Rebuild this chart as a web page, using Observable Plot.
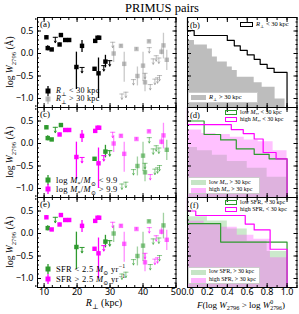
<!DOCTYPE html>
<html><head><meta charset="utf-8">
<script src="https://cdn.jsdelivr.net/npm/d3@7"></script>
<script src="https://cdn.jsdelivr.net/npm/@observablehq/plot@0.6"></script>
<style>
body{margin:0;background:#fff;}
#fig{position:relative;width:299px;height:314px;font-family:"Liberation Serif","DejaVu Serif",serif;color:#000;overflow:hidden;}
.p{position:absolute;}
.t{position:absolute;white-space:nowrap;line-height:1;}
.t i{font-style:italic;}
sub,sup{font-size:70%;line-height:0;}
.stk{display:inline-block;vertical-align:-0.45em;font-size:65%;line-height:1.05;text-align:left;}
.stk span{display:block;}
</style></head><body><div id="fig"></div>
<script>
// ---- point data (R_perp kpc, log W2796, error low/high, upper limit, high mass, high SFR)
const R   = [10.7,11.1,12.3,13.4,14.7,15.1,16.4,17.6,19.8,21.5,21.5,25.5,26.2,26.7,25.3,26.5,28.1,28.6,29.9,
             30.8,31.1,33.3,34.3,33.6,34.8,37.1,38.0,38.3,40.0,40.6,40.6,41.8,41.9,42.2,43.1,44.0,44.8,43.6,44.4,45.0,45.6,46.2,47.2];
const W   = [0.36,0.12,0.09,0.33,0.20,0.41,0.30,0.30,-0.30,-0.34,0.17,0.28,0.35,0.35,-0.34,-0.44,-0.30,-0.18,-0.19,
             0.22,0.00,0.17,-0.23,-0.93,-0.89,-0.61,0.10,-0.50,-0.27,-0.64,-0.47,0.27,0.10,-0.72,-0.15,-0.08,-0.13,-0.60,-0.57,-0.52,0.04,0.18,-0.14];
const Wlo = [0.32,0.06,0.07,null,0.17,0.38,0.28,0.28,-0.80,null,0.02,0.25,0.32,0.32,-0.37,-1.00,null,-0.32,null,
             null,-0.20,0.14,-0.64,null,null,null,0.07,-0.72,-0.62,-0.85,null,0.24,null,null,null,null,null,null,null,null,-0.03,-0.12,-0.38];
const Whi = [0.40,0.17,0.11,null,0.23,0.44,0.32,0.32,0.03,null,0.29,0.31,0.38,0.38,-0.31,-0.10,null,-0.04,null,
             null,0.17,0.20,0.03,null,null,null,0.13,-0.30,0.03,-0.45,null,0.30,null,null,null,null,null,null,null,null,0.12,0.45,0.07];
const LIM = [0,0,0,1,0,0,0,0,0,1,0,0,0,0,0,0,1,0,1, 1,0,0,0,1,1,1,0,0,0,0,1,0,1,1,1,1,1,1,1,1,0,0,0];
const HIM = [0,0,0,0,1,0,1,1,1,1,1,1,1,1,0,1,1,0,0, 1,1,1,1,0,0,0,1,0,0,0,0,1,0,1,0,0,0,0,0,0,1,1,0];
const HIS = [1,0,1,0,1,1,1,1,0,0,1,1,1,1,1,1,1,0,0, 1,0,1,1,0,0,0,1,0,0,1,1,0,1,0,0,1,0,1,1,0,1,0,1];

// ---- cumulative fractions F(log W > log W0): step levels (log W0) and the fraction reached there
const in_v   = [0.51,0.40,0.29,0.17,0.07,-0.03,-0.13,-0.24,-0.33,-0.42];
const in_F   = [0.067,0.40,0.47,0.53,0.60,0.67,0.73,0.80,0.87,1.00];
const out_v  = [0.29,0.19,0.10,-0.08,-0.19,-0.30,-0.38,-0.53,-0.65,-0.75,-1.01];
const out_F  = [0.07,0.20,0.25,0.30,0.40,0.45,0.50,0.67,0.75,0.88,0.98];
const lowM_in_v  = [0.50,0.20,0.08,-0.12,-0.24,-0.34];
const lowM_in_F  = [0.167,0.333,0.49,0.67,0.82,1.00];
const highM_in_v = [0.42,0.31,0.22,0.10,-0.20,-0.34];
const highM_in_F = [0.44,0.56,0.67,0.76,0.89,1.00];
const lowM_out_v = [-0.09,-0.16,-0.26,-0.40,-0.55,-0.75];
const lowM_out_F = [0.10,0.25,0.40,0.60,0.80,1.00];
const highM_out_v= [0.30,0.22,0.20,0.14,0.08,0.04,-0.16];
const highM_out_F= [0.143,0.286,0.43,0.57,0.71,0.86,1.00];
const lowS_in_v  = [0.22,-0.19];
const lowS_in_F  = [0.333,1.00];
const highS_in_v = [0.50,0.40,0.21,0.08,-0.35];
const highS_in_F = [0.083,0.58,0.67,0.83,1.00];
const lowS_out_v = [0.37,0.28,0.10,-0.17,-0.40];
const lowS_out_F = [0.20,0.40,0.60,0.80,1.00];
const highS_out_v= [0.27,0.20,0.14,-0.04,-0.13,-0.54];
const highS_out_F= [0.167,0.333,0.50,0.667,0.833,1.00];

const xTicksL = [10,20,30,40,50];
const xTicksR = [0.0,0.2,0.4,0.6,0.8,1.0];
const yTicks  = [0.5,0.0,-0.5,-1.0];

const pts = R.map((r,i)=>({R:r,W:W[i],lo:Wlo[i],hi:Whi[i],lim:LIM[i],m:HIM[i],s:HIS[i],far:r>30}));
const Xdom=[8,50], Ydom=[-1.2,0.8], XdomR=[0,1.1];
const GREEN="#2e9a2e", MAG="#ff00ff";
const fig=document.getElementById("fig");

const fmt = d => (d<0?"\u2212":"")+Math.abs(d).toFixed(1);
function axes(xt, minorX, showXLabels, xfmt){
  const minorY = d3.range(-1.2,0.81,0.1).map(v=>+v.toFixed(2));
  const o = {label:null};
  return [
    Plot.frame({stroke:"#000",strokeWidth:1}),
    Plot.axisX(xt,{...o,anchor:"bottom",tickSize:-4,tickPadding:5,fontSize:9,tickFormat: showXLabels? xfmt : ()=>""}),
    Plot.axisX(xt,{...o,anchor:"top",tickSize:-4,tickFormat:()=>""}),
    Plot.axisX(minorX,{...o,anchor:"bottom",tickSize:-2,tickFormat:()=>""}),
    Plot.axisX(minorX,{...o,anchor:"top",tickSize:-2,tickFormat:()=>""}),
    Plot.axisY(yTicks,{...o,anchor:"left",tickSize:-4,tickFormat:()=>""}),
    Plot.axisY(yTicks,{...o,anchor:"right",tickSize:-4,tickFormat:()=>""}),
    Plot.axisY(minorY,{...o,anchor:"left",tickSize:-2,tickFormat:()=>""}),
    Plot.axisY(minorY,{...o,anchor:"right",tickSize:-2,tickFormat:()=>""})
  ];
}
const hline={draw(ctx,size){const r=Math.sqrt(size)*0.9;ctx.moveTo(-r,0);ctx.lineTo(r,0);}};

function leftPanel(top, colorOf, showXLabels){
  const det = pts.filter(d=>!d.lim), lim = pts.filter(d=>d.lim), bars = pts.filter(d=>d.lo!=null);
  const op = d=>d.far?0.55:1;
  const plot = Plot.plot({
    width:138.5, height:90, margin:0, style:{overflow:"visible",background:"none"},
    x:{domain:Xdom}, y:{domain:Ydom},
    marks:[
      ...axes(xTicksL, d3.range(7.5,50.1,2.5), showXLabels, d=>String(d)),
      Plot.axisY(yTicks,{label:null,anchor:"left",tickSize:0,tickPadding:4,fontSize:9,tickFormat:fmt}),
      Plot.ruleX(bars,{x:"R",y1:"lo",y2:"hi",stroke:colorOf,strokeOpacity:d=>d.far?0.45:1,strokeWidth:1.3}),
      Plot.arrow(lim,{x1:"R",x2:"R",y1:d=>d.W+0.03,y2:d=>d.W-0.09,stroke:colorOf,strokeOpacity:op,strokeWidth:1,headLength:3}),
      Plot.dot(lim,{x:"R",y:d=>d.W+0.03,symbol:hline,r:1.6,stroke:colorOf,strokeOpacity:op,strokeWidth:1}),
      Plot.dot(det,{x:"R",y:"W",symbol:"square",r:2.5,fill:colorOf,fillOpacity:op,stroke:"none"})
    ]
  });
  plot.classList.add("p"); plot.style.left="36.5px"; plot.style.top=top+"px";
  fig.appendChild(plot);
}
function stepPts(vs,Fs){
  return [{F:0,v:Ydom[1]}, ...vs.map((v,i)=>({F:Fs[i],v})), {F:Fs[Fs.length-1],v:Ydom[0]}];
}
function rightPanel(top, fills, lines){
  const marks=[];
  for(const f of fills) marks.push(Plot.areaX(stepPts(f.v,f.F),{x:"F",y:"v",curve:"step-before",fill:f.color,fillOpacity:f.op}));
  for(const l of lines) marks.push(Plot.line(stepPts(l.v,l.F),{x:"F",y:"v",curve:"step-before",stroke:l.color,strokeWidth:1.2}));
  const plot = Plot.plot({
    width:109.5, height:90, margin:0, style:{overflow:"visible",background:"none"},
    x:{domain:XdomR}, y:{domain:Ydom},
    marks:[...marks, ...axes(xTicksR, d3.range(0,1.11,0.1).map(v=>+v.toFixed(2)), top>190, d=>d.toFixed(1))]
  });
  plot.classList.add("p"); plot.style.left="186.5px"; plot.style.top=top+"px";
  fig.appendChild(plot);
}

const tops=[17,107,197];
leftPanel(tops[0], d=>d.far?"#888":"#000", false);
leftPanel(tops[1], d=>d.m?MAG:GREEN, false);
leftPanel(tops[2], d=>d.s?MAG:GREEN, true);
rightPanel(tops[0], [{v:out_v,F:out_F,color:"#bdbdbd",op:1}], [{v:in_v,F:in_F,color:"#000"}]);
rightPanel(tops[1], [{v:lowM_out_v,F:lowM_out_F,color:"#7fc97f",op:0.4},{v:highM_out_v,F:highM_out_F,color:"#ff4dff",op:0.35}],
                    [{v:lowM_in_v,F:lowM_in_F,color:GREEN},{v:highM_in_v,F:highM_in_F,color:MAG}]);
rightPanel(tops[2], [{v:lowS_out_v,F:lowS_out_F,color:"#7fc97f",op:0.4},{v:highS_out_v,F:highS_out_F,color:"#ff4dff",op:0.35}],
                    [{v:lowS_in_v,F:lowS_in_F,color:GREEN},{v:highS_in_v,F:highS_in_F,color:MAG}]);

// ---- text
function T(html,x,y,size,opts={}){
  const d=document.createElement("div"); d.className="t"; d.innerHTML=html;
  d.style.left=x+"px"; d.style.top=y+"px"; d.style.fontSize=size+"px";
  if(opts.ls) d.style.letterSpacing=opts.ls+"px";
  if(opts.rot){d.style.transform="translate(-50%,-50%) rotate(-90deg)";}
  else if(opts.center){d.style.transform="translate(-50%,0)";}
  fig.appendChild(d); return d;
}
T("PRIMUS pairs",162,2,12.5,{center:true});
const ylab="log <i>W</i><sub>2796</sub> (\u00c5)";
tops.forEach(t=>T(ylab,11,t+45,9.5,{rot:true}));
T("<i>R</i><sub>\u22a5</sub> (kpc)",104,298,10,{center:true});
T("<i>F</i>(log <i>W</i><sub>2796</sub> &gt; log <i>W</i><span class='stk'><span>0</span><span>2796</span></span>)",241,299,9,{center:true});
["(a)","(c)","(e)"].forEach((s,i)=>T(s,40,tops[i]+3,9));
["(b)","(d)","(f)"].forEach((s,i)=>T(s,190,tops[i]+4,8.5));

function mk(color,op){return `<svg width="8" height="10" style="position:absolute;left:-12px;top:-1px;overflow:visible"><line x1="4" x2="4" y1="0" y2="10" stroke="${color}" stroke-opacity="${op}" stroke-width="1.3"/><rect x="1.5" y="2.5" width="5" height="5" fill="${color}" fill-opacity="${op}"/></svg>`;}
function lg(html,x,y,color,op,size){const d=T(html,x,y,size,{ls:0.3}); d.insertAdjacentHTML("afterbegin",mk(color,op));}
lg("<i>R</i><sub>\u22a5</sub> &lt; 30 kpc",56,86.5,"#000",1,8);
lg("<i>R</i><sub>\u22a5</sub> &gt; 30 kpc",56,94.5,"#888",0.55,8);
lg("log <i>M</i><sub>*</sub>/<i>M</i><sub>\u2299</sub> &lt; 9.9",56,175.5,GREEN,1,8.5);
lg("log <i>M</i><sub>*</sub>/<i>M</i><sub>\u2299</sub> &gt; 9.9",56,185,MAG,1,8.5);
lg("SFR &lt; 2.5 <i>M</i><sub>\u2299</sub> yr<sup>\u22121</sup>",56,264.5,GREEN,1,8.5);
lg("SFR &gt; 2.5 <i>M</i><sub>\u2299</sub> yr<sup>\u22121</sup>",56,275,MAG,1,8.5);

function box(x,y,w,h,stroke,fill){const d=document.createElement("div");d.style.cssText=`position:absolute;left:${x}px;top:${y}px;width:${w}px;height:${h}px;border:1px solid ${stroke};background:${fill};box-sizing:border-box`;fig.appendChild(d);}
// (b)
box(240,22,13,5,"#000","none"); T("<i>R</i><sub>\u22a5</sub> &lt; 30 kpc",256,20.5,6.5);
box(188,92,70,11,"#ccc","#fff"); box(191,95,15,5,"#bdbdbd","#bdbdbd"); T("<i>R</i><sub>\u22a5</sub> &gt; 30 kpc",209,93.5,6.5);
// (d)
box(225,110,12,5,GREEN,"none"); T("low <i>M</i><sub>*</sub>, &lt; 30 kpc",240,108.7,6);
box(225,117,12,5,MAG,"none"); T("high <i>M</i><sub>*</sub>, &lt; 30 kpc",240,116,6);
box(188,177,72,17,"#ccc","#fff"); box(191,180,15,5,"#c6e5c6","#c6e5c6"); T("low <i>M</i><sub>*</sub>, &gt; 30 kpc",209,178.5,6);
box(191,187.5,15,5,"#ffb3ff","#ffb3ff"); T("high <i>M</i><sub>*</sub>, &gt; 30 kpc",209,186.3,6);
// (f)
box(225,200,12,5,GREEN,"none"); T("low SFR, &lt; 30 kpc",240,199,6);
box(225,207,12,5,MAG,"none"); T("high SFR, &lt; 30 kpc",240,206.3,6);
box(188,267,72,17,"#ccc","#fff"); box(191,270,15,5,"#c6e5c6","#c6e5c6"); T("low SFR, &gt; 30 kpc",209,268,6);
box(191,277.5,15,5,"#ffb3ff","#ffb3ff"); T("high SFR, &gt; 30 kpc",209,276.3,6);
</script></body></html>
